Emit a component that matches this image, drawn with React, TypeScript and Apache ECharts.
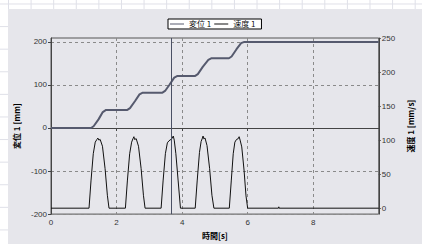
import React, { useEffect, useRef } from "react";
import * as echarts from "echarts";

// Displacement 1 [mm] vs time [s]
const displacement: [number, number][] = [
  [0, 0], [1.22, 0], [1.30, 4], [1.45, 20], [1.58, 37], [1.68, 42],
  [2.33, 42], [2.41, 46], [2.56, 62], [2.70, 78], [2.80, 82],
  [3.40, 82], [3.48, 86], [3.62, 101], [3.76, 117], [3.86, 121],
  [4.40, 121], [4.48, 125], [4.63, 142], [4.80, 158], [4.90, 162],
  [5.43, 162], [5.51, 166], [5.66, 183], [5.80, 197], [5.90, 200],
  [10, 200],
];

// Velocity 1 [mm/s] vs time [s]
const velocity: [number, number][] = [
  [0, 0],
  [1.16, 0], [1.22, 40], [1.29, 80], [1.35, 97], [1.40, 101], [1.43, 103], [1.46, 100], [1.50, 101], [1.57, 91], [1.65, 58], [1.72, 19], [1.77, 0],
  [2.27, 0], [2.33, 40], [2.40, 80], [2.46, 97], [2.50, 102], [2.53, 105], [2.55, 101], [2.60, 102], [2.67, 91], [2.75, 58], [2.82, 19], [2.87, 0],
  [3.36, 0], [3.42, 40], [3.49, 80], [3.55, 96], [3.60, 99], [3.66, 101], [3.70, 103], [3.73, 106], [3.76, 100], [3.81, 80], [3.88, 40], [3.95, 0],
  [4.40, 0], [4.46, 40], [4.53, 82], [4.58, 98], [4.62, 103], [4.64, 106], [4.66, 102], [4.70, 103], [4.76, 92], [4.84, 58], [4.91, 19], [4.97, 0],
  [5.44, 0], [5.50, 40], [5.56, 80], [5.61, 97], [5.66, 101], [5.71, 102], [5.74, 105], [5.77, 100], [5.82, 90], [5.89, 56], [5.95, 18], [6.00, 0],
  [6.94, 0], [6.95, 2], [6.96, 0], [10, 0],
];

const xTicks = [0, 2, 4, 6, 8];
const leftTicks = [-200, -100, 0, 100, 200];
const rightTicks = [0, 50, 100, 150, 200, 250];
const cursorTime = 3.68;
const seriesNames = ["変位 1", "速度 1"];

const FONT = "'Liberation Sans', Arial, sans-serif";
const CJK = "'Noto Sans CJK JP', sans-serif";

export default function App() {
  const ref = useRef<HTMLDivElement>(null);
  useEffect(() => {
    if (!ref.current) return;
    const chart = echarts.init(ref.current, undefined, { renderer: "svg" });
    const axisLine = { show: true, lineStyle: { color: "#444", width: 1 } };
    const splitLine = { show: true, lineStyle: { color: "#8a8a8a", type: [3, 3] as any, width: 1 } };
    chart.setOption({
      animation: false,
      backgroundColor: "transparent",
      legend: {
        left: 168,
        top: 19,
        padding: [1, 6, 1, 2],
        itemGap: 3,
        itemWidth: 14,
        itemHeight: 1,
        icon: "rect",
        borderColor: "#000",
        borderWidth: 1,
        borderRadius: 0,
        backgroundColor: "#fff",
        textStyle: { fontSize: 8, color: "#111", fontFamily: CJK },
        data: seriesNames,
      },
      grid: {
        left: 51,
        right: 36,
        top: 38,
        bottom: 28,
        show: true,
        borderColor: "#555",
        borderWidth: 1,
        backgroundColor: "transparent",
      },
      xAxis: {
        type: "value",
        min: 0,
        max: 10,
        interval: 2,
        name: "時間[s]",
        nameLocation: "middle",
        nameGap: 9,
        nameTextStyle: { fontSize: 8, color: "#000", fontFamily: CJK, fontWeight: "bold" },
        axisLine,
        axisTick: { show: true, length: 3, inside: false, lineStyle: { color: "#444" }, customValues: xTicks },
        axisLabel: { fontSize: 8, color: "#333", fontFamily: FONT, margin: 4, customValues: xTicks },
        splitLine,
      },
      yAxis: [
        {
          type: "value",
          position: "left",
          min: -200,
          max: 209,
          interval: 100,
          name: "変位 1 [mm]",
          nameLocation: "middle",
          nameRotate: 90,
          nameGap: 21,
          nameTextStyle: { fontSize: 8, color: "#000", fontFamily: CJK, fontWeight: "bold" },
          axisLine,
          axisTick: { show: true, length: 3, lineStyle: { color: "#444" }, customValues: leftTicks },
          axisLabel: { fontSize: 8, color: "#333", fontFamily: FONT, margin: 4, customValues: leftTicks },
          splitLine,
        },
        {
          type: "value",
          position: "right",
          min: -8.7,
          max: 250,
          name: "速度 1 [mm/s]",
          nameLocation: "middle",
          nameRotate: 90,
          nameGap: 14,
          nameTextStyle: { fontSize: 8, color: "#000", fontFamily: CJK, fontWeight: "bold" },
          axisLine,
          axisTick: { show: true, length: 2, lineStyle: { color: "#444" }, customValues: rightTicks },
          axisLabel: { fontSize: 8, color: "#333", fontFamily: FONT, margin: 3, customValues: rightTicks },
          splitLine: { show: false },
        },
      ],
      series: [
        {
          name: seriesNames[1],
          type: "line",
          yAxisIndex: 1,
          data: velocity,
          showSymbol: false,
          symbol: "none",
          lineStyle: { color: "#111", width: 1 },
          itemStyle: { color: "#111" },
          z: 2,
        },
        {
          name: seriesNames[0],
          type: "line",
          yAxisIndex: 0,
          data: displacement,
          showSymbol: false,
          symbol: "none",
          lineStyle: { color: "#565a6e", width: 2 },
          itemStyle: { color: "#565a6e" },
          z: 3,
          markLine: {
            silent: true,
            symbol: "none",
            label: { show: false },
            lineStyle: { color: "#4a5064", width: 1, type: "solid" },
            data: [{ xAxis: cursorTime }],
          },
        },
      ],
    });
    return () => chart.dispose();
  }, []);

  return (
    <div
      style={{
        position: "fixed",
        left: 0,
        top: 0,
        width: 422,
        height: 244,
        overflow: "hidden",
        backgroundColor: "#fff",
        backgroundImage:
          "linear-gradient(to right, #dfe0e8 1px, transparent 1px), linear-gradient(to bottom, #dfe0e8 1px, transparent 1px)",
        backgroundSize: "22.6px 22.6px",
        backgroundPosition: "8px 3.5px",
      }}
    >
      <div
        style={{
          position: "absolute",
          left: 8,
          top: 9,
          width: 414,
          height: 235,
          backgroundColor: "#e6e6eb",
        }}
      />
      <div ref={ref} style={{ position: "absolute", left: 0, top: 0, width: 422, height: 244 }} />
    </div>
  );
}
